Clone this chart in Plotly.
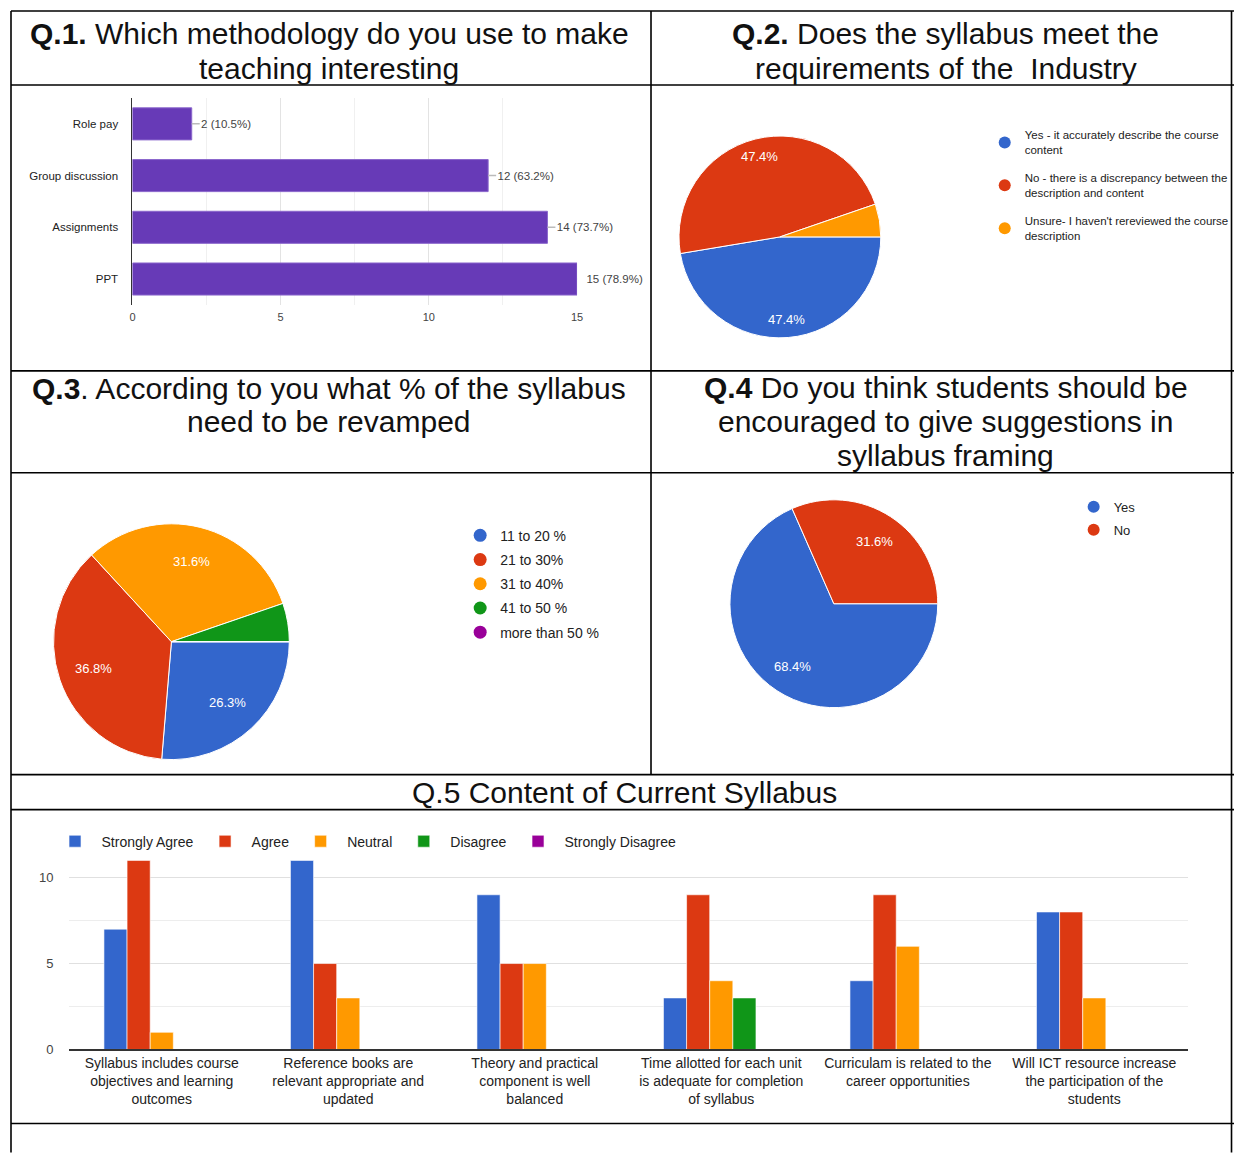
import math
import plotly.graph_objects as go

# Page geometry: the browser adds an 8px body margin and the captured page
# (8 + 1242 px wide) is fitted into 1242 px.  Positions below are written in
# the target picture's pixels and converted to paper fractions.
W, H = 1242, 1153
BODY = 8
SCALE = W / (W + BODY)
XSHIFT = 2.5
FONT = "Liberation Sans, Arial, sans-serif"

# ---------------- data ----------------
respondents = 19

q1_categories = ["Role pay", "Group discussion", "Assignments", "PPT"]
q1_counts = [2, 12, 14, 15]

q2_labels = ["Yes - it accurately describe the course<br>content",
             "No - there is a discrepancy between the<br>description and content",
             "Unsure- I haven't rereviewed the course<br>description"]
q2_counts = [9, 9, 1]

q3_labels = ["11 to 20 %", "21 to 30%", "31 to 40%", "41 to 50 %", "more than 50 %"]
q3_counts = [5, 7, 6, 1, 0]

q4_labels = ["Yes", "No"]
q4_counts = [13, 6]

q5_statements = [
    "Syllabus includes course<br>objectives and learning<br>outcomes",
    "Reference books are<br>relevant appropriate and<br>updated",
    "Theory and practical<br>component is well<br>balanced",
    "Time allotted for each unit<br>is adequate for completion<br>of syllabus",
    "Curriculam is related to the<br>career opportunities",
    "Will ICT resource increase<br>the participation of the<br>students",
]
q5_responses = ["Strongly Agree", "Agree", "Neutral", "Disagree", "Strongly Disagree"]
q5_strongly_agree = [7, 11, 9, 3, 4, 8]
q5_agree = [11, 5, 5, 9, 9, 8]
q5_neutral = [1, 3, 5, 4, 6, 3]
q5_disagree = [0, 0, 0, 3, 0, 0]
q5_strongly_disagree = [0, 0, 0, 0, 0, 0]

palette = ["#3366cc", "#dc3912", "#ff9900", "#109618", "#990099"]
q1_color = "#673ab7"


def px(x):
    return min(max(((x - XSHIFT) / SCALE - BODY) / W, 0), 1)


def py(y):
    return min(max(1 - (y / SCALE - BODY) / H, 0), 1)


fig = go.Figure()
annotations = []

# ---------------- Q1 horizontal bars ----------------
q1_text = [f"{c} ({c / respondents * 100:.1f}%)" for c in q1_counts]
fig.add_trace(go.Bar(
    y=q1_categories, x=q1_counts, orientation="h",
    marker=dict(color=q1_color, line=dict(color="#8a66cc", width=1)),
    text=q1_text, texttemplate="\u00a0\u00a0%{text}", textposition="outside",
    textfont=dict(size=11.5, color="#444", family=FONT), cliponaxis=False,
    constraintext="none",
    error_x=dict(type="constant", value=0.27, symmetric=False, valueminus=0,
                 width=0, color="#bbbbbb", thickness=1.5),
    xaxis="x", yaxis="y", showlegend=False, hoverinfo="x+y",
))

# ---------------- Q5 grouped bars ----------------
q5_series = [q5_strongly_agree, q5_agree, q5_neutral, q5_disagree, q5_strongly_disagree]
for name, vals, col in zip(q5_responses, q5_series, palette):
    fig.add_trace(go.Bar(
        x=q5_statements, y=vals, name=name,
        marker=dict(color=col, line=dict(color="rgba(255,255,255,0.6)", width=1)),
        xaxis="x2", yaxis="y2", legend="legend",
    ))

# ---------------- pies ----------------
PIE_ROTATION = 90


def add_pie(labels, counts, colors, cx, cy, r, label_r):
    fig.add_trace(go.Pie(
        labels=[l.replace("<br>", " ") for l in labels], values=counts,
        marker=dict(colors=colors, line=dict(color="white", width=1)),
        sort=False, direction="clockwise", rotation=PIE_ROTATION,
        textinfo="none",
        domain=dict(x=[px(cx - r), px(cx + r)], y=[py(cy + r), py(cy - r)]),
        showlegend=False,
    ))
    # percentage labels placed like the original (Google-style, ~0.7 r)
    total = sum(counts)
    start = 0
    for c in counts:
        share = c / total
        if share >= 0.1:
            mid = math.radians(PIE_ROTATION + 360 * (start + share / 2))
            lx = cx + label_r * r * math.sin(mid)
            ly = cy - label_r * r * math.cos(mid)
            annotations.append(dict(
                text=f"{share * 100:.1f}%", x=px(lx), y=py(ly),
                xref="paper", yref="paper", showarrow=False,
                xanchor="center", yanchor="middle",
                font=dict(size=13, color="white", family=FONT)))
        start += share


add_pie(q2_labels, q2_counts, palette[:3], 780, 237, 101, 0.82)
add_pie(q3_labels, q3_counts, palette[:5], 171, 642, 118, 0.7)
add_pie(q4_labels, q4_counts, palette[:2], 834, 604, 104, 0.72)


# legend proxies (circle markers like the original legends)
def add_proxies(labels, colors, legend_id, size):
    for i, (lab, col) in enumerate(zip(labels, colors)):
        fig.add_trace(go.Scatter(
            x=[None], y=[None], mode="markers", name=lab,
            marker=dict(symbol="circle", size=size, color=col),
            legend=legend_id, legendgroup=f"{legend_id}_{i}",
            xaxis="x3", yaxis="y3", hoverinfo="skip",
        ))


add_proxies(q2_labels, palette[:3], "legend2", 12)
add_proxies(q3_labels, palette[:5], "legend3", 13)
add_proxies(q4_labels, palette[:2], "legend4", 12)

# ---------------- table borders ----------------
border_lines = [
    (9, 11, 1241, 11), (9, 11, 9, 1153), (1232, 11, 1232, 1153),
    (651, 11, 651, 775),
    (9, 85, 1241, 85), (9, 371, 1241, 371), (9, 473, 1241, 473),
    (9, 775, 1241, 775), (9, 810, 1241, 810), (9, 1124, 1241, 1124),
]
shapes = [dict(type="line", xref="paper", yref="paper",
               x0=px(a), y0=py(b), x1=px(c), y1=py(d),
               line=dict(color="#000", width=1.6)) for a, b, c, d in border_lines]

# ---------------- titles ----------------
title_lines = [
    ("<b>Q.1.</b> Which methodology do you use to make", 329, 33),
    ("teaching interesting", 329, 68),
    ("<b>Q.2.</b> Does the syllabus meet the", 946, 33),
    ("requirements of the  Industry", 946, 68),
    ("<b>Q.3</b>. According to you what % of the syllabus", 329, 389),
    ("need to be revamped", 329, 422),
    ("<b>Q.4</b> Do you think students should be", 946, 388),
    ("encouraged to give suggestions in", 946, 422),
    ("syllabus framing", 946, 456),
    ("Q.5 Content of Current Syllabus", 624, 793),
]
annotations += [dict(text=t, x=px(x), y=py(y), xref="paper", yref="paper",
                     xanchor="center", yanchor="middle", showarrow=False,
                     font=dict(size=30, color="#111", family=FONT))
                for t, x, y in title_lines]

fig.update_layout(
    width=W, height=H, margin=dict(l=0, r=0, t=0, b=0),
    paper_bgcolor="white", plot_bgcolor="white",
    font=dict(family=FONT, color="#222"),
    bargap=0.38, bargroupgap=0, barmode="group",
    shapes=shapes, annotations=annotations,
    xaxis=dict(domain=[px(132), px(577)], anchor="y", range=[0, 15],
               tick0=0, dtick=5, showgrid=True, gridcolor="#e3e3e3",
               minor=dict(dtick=2.5, showgrid=True, gridcolor="#f0f0f0"),
               zeroline=False, showline=False, ticks="",
               tickfont=dict(size=11, color="#444"), ticklabelstandoff=4,
               fixedrange=True),
    yaxis=dict(domain=[py(305), py(98)], anchor="x",
               categoryorder="array", categoryarray=q1_categories,
               autorange="reversed", showline=True, linecolor="#333", linewidth=1,
               showgrid=False, ticks="", tickfont=dict(size=11.5, color="#222"),
               ticklabelstandoff=11, fixedrange=True),
    xaxis2=dict(domain=[px(68), px(1188)], anchor="y2",
                categoryorder="array", categoryarray=q5_statements,
                showline=True, linecolor="#333", linewidth=1.5, ticks="",
                tickfont=dict(size=14, color="#222"), showgrid=False,
                fixedrange=True),
    yaxis2=dict(domain=[py(1050), py(835)], anchor="x2", range=[0, 12.5],
                tick0=0, dtick=5, showgrid=True, gridcolor="#e0e0e0",
                minor=dict(dtick=2.5, showgrid=True, gridcolor="#ededed"),
                zeroline=False, ticks="", tickfont=dict(size=13, color="#444"),
                ticklabelstandoff=14, fixedrange=True),
    xaxis3=dict(domain=[0, 0.001], anchor="y3", visible=False),
    yaxis3=dict(domain=[0, 0.001], anchor="x3", visible=False),
    legend=dict(orientation="h", x=px(48), y=py(826), xanchor="left", yanchor="top",
                bgcolor="rgba(0,0,0,0)", font=dict(size=14, color="#222"),
                traceorder="normal", itemwidth=43),
    legend2=dict(x=px(985), y=py(121), xanchor="left", yanchor="top",
                 bgcolor="rgba(0,0,0,0)", font=dict(size=11.5, color="#222"),
                 traceorder="grouped", tracegroupgap=10),
    legend3=dict(x=px(460), y=py(520), xanchor="left", yanchor="top",
                 bgcolor="rgba(0,0,0,0)", font=dict(size=14, color="#222"),
                 traceorder="grouped", tracegroupgap=3),
    legend4=dict(x=px(1074), y=py(492), xanchor="left", yanchor="top",
                 bgcolor="rgba(0,0,0,0)", font=dict(size=13, color="#222"),
                 traceorder="grouped", tracegroupgap=3),
)

fig.write_html("out.html", config={"displayModeBar": False})
